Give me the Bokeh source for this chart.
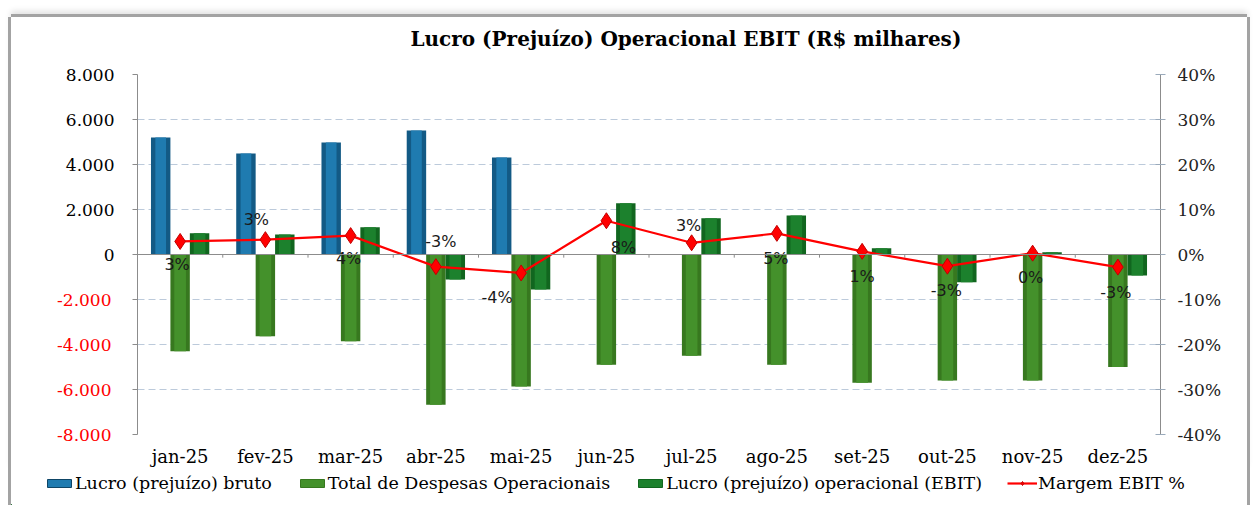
from bokeh.plotting import figure
from bokeh.models import (FactorRange, Range1d, LinearAxis, FixedTicker,
                          CustomJSTickFormatter, Span, Legend, LegendItem,
                          ColumnDataSource, Title)
from bokeh.transform import dodge
from bokeh.embed import file_html
from bokeh.resources import INLINE
from bokeh.core.properties import value

# ---------------- data ----------------
months = ["jan-25", "fev-25", "mar-25", "abr-25", "mai-25", "jun-25",
          "jul-25", "ago-25", "set-25", "out-25", "nov-25", "dez-25"]
lucro_bruto = [5200, 4490, 4980, 5510, 4310, 0, 0, 0, 0, 0, 0, 0]
despesas = [-4300, -3630, -3850, -6680, -5870, -4900, -4500, -4900,
            -5700, -5600, -5600, -5000]
ebit = [950, 890, 1210, -1110, -1560, 2280, 1610, 1730, 280, -1230, 100, -930]
margem = [2.9, 3.3, 4.2, -2.7, -4.1, 7.5, 2.6, 4.7, 0.7, -2.6, 0.3, -2.8]
left_ticks = [-8000, -6000, -4000, -2000, 0, 2000, 4000, 6000, 8000]
right_ticks = [-40, -30, -20, -10, 0, 10, 20, 30, 40]
series_names = ["Lucro (prejuízo) bruto", "Total de Despesas Operacionais",
                "Lucro (prejuízo) operacional (EBIT)", "Margem EBIT %"]
title_text = "Lucro (Prejuízo) Operacional EBIT (R$ milhares)"

# label placement (screen pixels, + = down), style only
lab_dx = [-3, -9, -2, 5, -24, 17, -3, -1, 0, -1, -2, -2]
lab_dy = [23, -20, 23, -25, 25, 27, -17, 25, 25, 24, 24, 25]

src = ColumnDataSource(dict(
    m=months, bruto=lucro_bruto, desp=despesas, ebit=ebit, marg=margem,
    lab=[f"{v:.0f}%" for v in margem], dx=lab_dx, dy=lab_dy))

SERIF = "DejaVu Serif"
THOUSANDS_JS = "Math.abs(tick).toFixed(0).replace(/\\B(?=(\\d{3})+(?!\\d))/g, '.')"
BLUE, BLUE_HI = "#135a85", "#1f7bb0"
LGREEN, LGREEN_HI = "#37781f", "#44912b"
DGREEN, DGREEN_HI = "#11661f", "#1c812d"
EDGE = "#a3a3a3"

p = figure(x_range=FactorRange(*months, range_padding=0),
           y_range=Range1d(-8000, 8000),
           width=1236, height=455, output_backend="svg", toolbar_location=None,
           min_border_left=126, min_border_right=87, min_border_top=57,
           min_border_bottom=38, background_fill_color="white",
           border_fill_color="white", outline_line_color=None)
p.extra_y_ranges = {"pct": Range1d(-40, 40)}
p.styles = {"margin-left": "11px", "margin-top": "17px",
            "box-shadow": f"-3px 0 0 0 {EDGE}, 3px 0 0 0 {EDGE}, 0 -3px 0 0 {EDGE}, 0 -6px 6px 0 #e2e2e2"}

# title (outermost) + small spacer title next to the frame
p.title.text = title_text
p.title.text_font = SERIF
p.title.text_font_style = "bold"
p.title.text_font_size = "20px"
p.title.text_color = "black"
p.title.align = "left"
p.title.offset = 273
p.add_layout(Title(text=" ", text_font_size="7px"), "above")

# grid
p.xgrid.grid_line_color = None
p.ygrid.ticker = FixedTicker(ticks=left_ticks)
p.ygrid.grid_line_color = "#bccadb"
p.ygrid.grid_line_dash = "7 4"
p.ygrid.grid_line_width = 1

# left axis (black labels for non-negative ticks)
ya = p.yaxis[0]
ya.ticker = FixedTicker(ticks=left_ticks)
ya.formatter = CustomJSTickFormatter(code="if (tick < 0) { return ''; } return " + THOUSANDS_JS + ";")
ya.axis_line_color = "#8c8c8c"
ya.major_tick_line_color = "#8c8c8c"
ya.major_tick_out = 5
ya.major_tick_in = 0
ya.minor_tick_line_color = None
ya.major_label_standoff = 18
ya.major_label_text_font = SERIF
ya.major_label_text_font_size = "17px"
ya.major_label_text_color = "black"

# second left axis carrying the red negative labels, pulled back onto the first
neg_ticks = [t for t in left_ticks if t < 0]
ya2 = LinearAxis(ticker=FixedTicker(ticks=neg_ticks),
                 formatter=CustomJSTickFormatter(code="return '-' + " + THOUSANDS_JS + ";"))
ya2.axis_line_color = None
ya2.major_tick_line_color = None
ya2.major_tick_out = 0
ya2.major_tick_in = 0
ya2.minor_tick_line_color = None
ya2.major_label_standoff = -49
ya2.major_label_text_font = SERIF
ya2.major_label_text_font_size = "17px"
ya2.major_label_text_color = "#ff0000"
p.add_layout(ya2, "left")

# right axis
ra = LinearAxis(y_range_name="pct", ticker=FixedTicker(ticks=right_ticks),
                formatter=CustomJSTickFormatter(code="return tick.toFixed(0) + '%';"))
ra.axis_line_color = "#8c8c8c"
ra.major_tick_line_color = "#9aaabb"
ra.major_tick_out = 5
ra.major_tick_in = 5
ra.minor_tick_line_color = None
ra.major_label_standoff = 12
ra.major_label_text_font = SERIF
ra.major_label_text_font_size = "17px"
ra.major_label_text_color = "#222222"
p.add_layout(ra, "right")

# x axis (labels at bottom)
xa = p.xaxis[0]
xa.axis_line_color = None
xa.major_tick_line_color = None
xa.major_tick_out = 0
xa.major_tick_in = 0
xa.major_label_standoff = 11
xa.major_label_text_font = SERIF
xa.major_label_text_font_size = "18px"
xa.major_label_text_color = "black"

# zero line with category ticks
p.add_layout(Span(location=0, dimension="width", line_color="#8c8c8c", line_width=1.2))
p.segment(x0=dodge("m", 0.5, range=p.x_range), y0=0,
          x1=dodge("m", 0.5, range=p.x_range), y1=-140,
          line_color="#8c8c8c", line_width=1, source=src)

W = 0.228
# bars: base + highlight for a cylinder look
p.vbar(x=dodge("m", -W, range=p.x_range), top="bruto", bottom=0, width=W,
       fill_color=BLUE, line_color=None, source=src)
p.vbar(x=dodge("m", -W, range=p.x_range), top="bruto", bottom=0, width=W * 0.55,
       fill_color=BLUE_HI, line_color=None, source=src)
p.vbar(x=dodge("m", 0, range=p.x_range), top="desp", bottom=0, width=W,
       fill_color=LGREEN, line_color=None, source=src)
p.vbar(x=dodge("m", 0, range=p.x_range), top="desp", bottom=0, width=W * 0.6,
       fill_color=LGREEN_HI, line_color=None, source=src)
p.vbar(x=dodge("m", W, range=p.x_range), top="ebit", bottom=0, width=W,
       fill_color=DGREEN, line_color=None, source=src)
p.vbar(x=dodge("m", W, range=p.x_range), top="ebit", bottom=0, width=W * 0.6,
       fill_color=DGREEN_HI, line_color=None, source=src)

# margin line
p.line(x="m", y="marg", y_range_name="pct", line_color="#ff0000",
       line_width=2.2, source=src)
p.scatter(x="m", y="marg", y_range_name="pct", marker="diamond", size=16,
          fill_color="#ff0000", line_color="#c00000", line_width=1, source=src)
p.text(x="m", y="marg", text="lab", y_range_name="pct", x_offset="dx", y_offset="dy",
       text_align="center", text_baseline="middle", text_font=value("DejaVu Sans"),
       text_font_size="16px", text_color="#1a1a1a", source=src)

# ---------------- legend strip (separate root below the chart) ----------------
lg = figure(width=1236, height=33, x_range=Range1d(0, 1236), y_range=Range1d(0, 33),
            output_backend="svg", toolbar_location=None, min_border=0,
            x_axis_location=None, y_axis_location=None, outline_line_color=None,
            background_fill_color="white", border_fill_color="white")
lg.grid.grid_line_color = None
lg.styles = {"margin-left": "11px",
             "box-shadow": f"-3px 0 0 0 {EDGE}, 3px 0 0 0 {EDGE}"}
# legend sample glyphs (kept outside the visible range)
g1 = lg.vbar(x=[-50], top=[1], width=1, fill_color=BLUE_HI, line_color="#0e4566")
g2 = lg.vbar(x=[-50], top=[1], width=1, fill_color=LGREEN_HI, line_color=LGREEN)
g3 = lg.vbar(x=[-50], top=[1], width=1, fill_color=DGREEN_HI, line_color=DGREEN)
g4 = lg.line(x=[-60, -50], y=[1, 1], line_color="#ff0000", line_width=2.2)
g5 = lg.scatter(x=[-50], y=[1], marker="diamond", size=16, fill_color="#ff0000",
                line_color="#c00000")
legend = Legend(items=[LegendItem(label=series_names[0], renderers=[g1]),
                       LegendItem(label=series_names[1], renderers=[g2]),
                       LegendItem(label=series_names[2], renderers=[g3]),
                       LegendItem(label=series_names[3], renderers=[g4, g5])],
                orientation="horizontal", location=(33, 12),
                glyph_width=30, glyph_height=10, label_standoff=1, spacing=25,
                padding=0, margin=0, border_line_color=None,
                background_fill_alpha=0, label_text_font=SERIF,
                label_text_color="black",
                label_text_font_size="17.5px", label_height=20)
lg.add_layout(legend, "center")

open("out.html", "w").write(file_html([p, lg], INLINE))
